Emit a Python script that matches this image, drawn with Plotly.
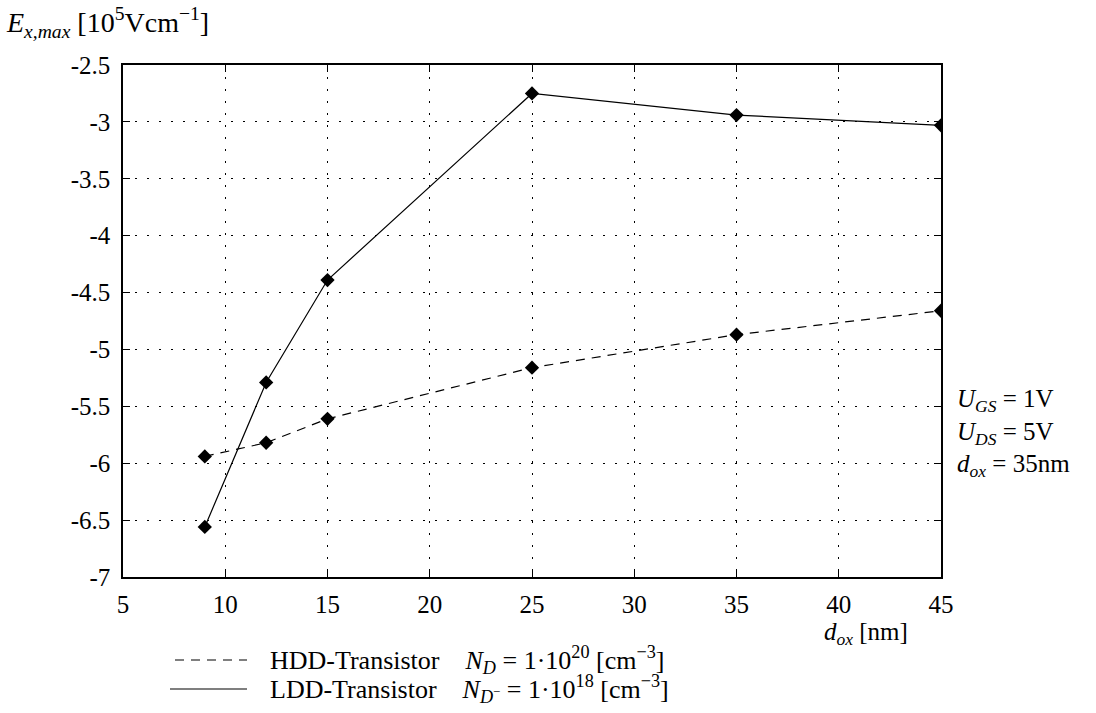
import plotly.graph_objects as go

# Oxide thickness d_ox [nm]
d_ox = [9, 12, 15, 25, 35, 45]
# Maximum lateral field E_x,max [1e5 V/cm]
e_hdd = [-5.94, -5.82, -5.61, -5.16, -4.87, -4.66]
e_ldd = [-6.56, -5.29, -4.39, -2.75, -2.94, -3.03]

x_ticks = [5, 10, 15, 20, 25, 30, 35, 40, 45]
y_ticks = [-7, -6.5, -6, -5.5, -5, -4.5, -4, -3.5, -3, -2.5]
y_tick_text = ["-7", "-6.5", "-6", "-5.5", "-5", "-4.5", "-4", "-3.5", "-3", "-2.5"]

FONT = "Liberation Serif"
FS = 25
BLACK = "#000000"
W, H = 1096, 713
L, R, T, B = 123, 941, 65, 577  # plot-area edges in pixels


def px(x, y):
    """Convert page pixel position to paper coordinates of the plot area."""
    return (x - L) / (R - L), (B - y) / (B - T)


fig = go.Figure()

fig.add_trace(go.Scatter(
    x=d_ox, y=e_hdd, mode="lines+markers",
    line=dict(color=BLACK, width=1.2, dash="9px,7px"),
    marker=dict(symbol="diamond", size=11, color=BLACK),
    showlegend=False,
))
fig.add_trace(go.Scatter(
    x=d_ox, y=e_ldd, mode="lines+markers",
    line=dict(color=BLACK, width=1.2),
    marker=dict(symbol="diamond", size=11, color=BLACK),
    showlegend=False,
))

axis_common = dict(
    showline=True, linecolor=BLACK, linewidth=1.5, mirror="ticks",
    ticks="inside", ticklen=7, tickwidth=1, tickcolor=BLACK,
    showgrid=True, gridcolor=BLACK, gridwidth=1, griddash="2px,10px",
    zeroline=False,
    tickfont=dict(family=FONT, size=FS, color=BLACK),
)

fig.update_xaxes(range=[5, 45], tickvals=x_ticks, ticklabelstandoff=4, **axis_common)
fig.update_yaxes(range=[-7, -2.5], tickvals=y_ticks, ticktext=y_tick_text,
                 ticklabelstandoff=6, **axis_common)

fig.update_layout(
    width=W, height=H,
    margin=dict(l=L, r=W - R, t=T, b=H - B),
    paper_bgcolor="white", plot_bgcolor="white",
    font=dict(family=FONT, size=FS, color=BLACK),
)


def text_at(x, y, txt, xanchor="left", size=FS):
    ax, ay = px(x, y)
    fig.add_annotation(x=ax, y=ay, xref="paper", yref="paper",
                       xanchor=xanchor, yanchor="middle", text=txt,
                       showarrow=False, font=dict(family=FONT, size=size, color=BLACK))


# y-axis label, top left
text_at(4, 22, "<i>E</i><sub><i>x,max</i></sub>&nbsp;[10<sup>5</sup>Vcm<sup>−1</sup>]", size=28)

# x-axis label, under the right end of the x axis
text_at(866, 633, "<i>d</i><sub><i>ox</i></sub> [nm]", xanchor="center")

# operating conditions at right, as one three-line block
cond = ["<i>U</i><sub><i>GS</i></sub> = 1V",
        "<i>U</i><sub><i>DS</i></sub> = 5V",
        "<i>d</i><sub><i>ox</i></sub> = 35nm"]
cx, cy = px(955, 433)
fig.add_annotation(x=cx, y=cy, xref="paper", yref="paper",
                   xanchor="left", yanchor="middle", align="left",
                   text="<br>".join(cond), showarrow=False,
                   font=dict(family=FONT, size=25, color=BLACK))

# hand-drawn legend below the plot
GAP = "&nbsp;" * 4
legend_items = [
    ("9px,7px", 175,
     "HDD-Transistor" + GAP + "<i>N</i><sub><i>D</i></sub> = 1·10<sup>20</sup> [cm<sup>−3</sup>]", 660),
    ("solid", 170,
     "LDD-Transistor" + GAP + "<i>N</i><sub><i>D</i><sup>−</sup></sub> = 1·10<sup>18</sup> [cm<sup>−3</sup>]", 689),
]
for dash, x0, txt, ypx in legend_items:
    lx0, ly = px(x0, ypx)
    lx1, _ = px(247, ypx)
    fig.add_shape(type="line", xref="paper", yref="paper",
                  x0=lx0, x1=lx1, y0=ly, y1=ly,
                  line=dict(color=BLACK, width=1.2, dash=dash))
    text_at(268, ypx, txt, size=26)

fig.write_html("out.html")
